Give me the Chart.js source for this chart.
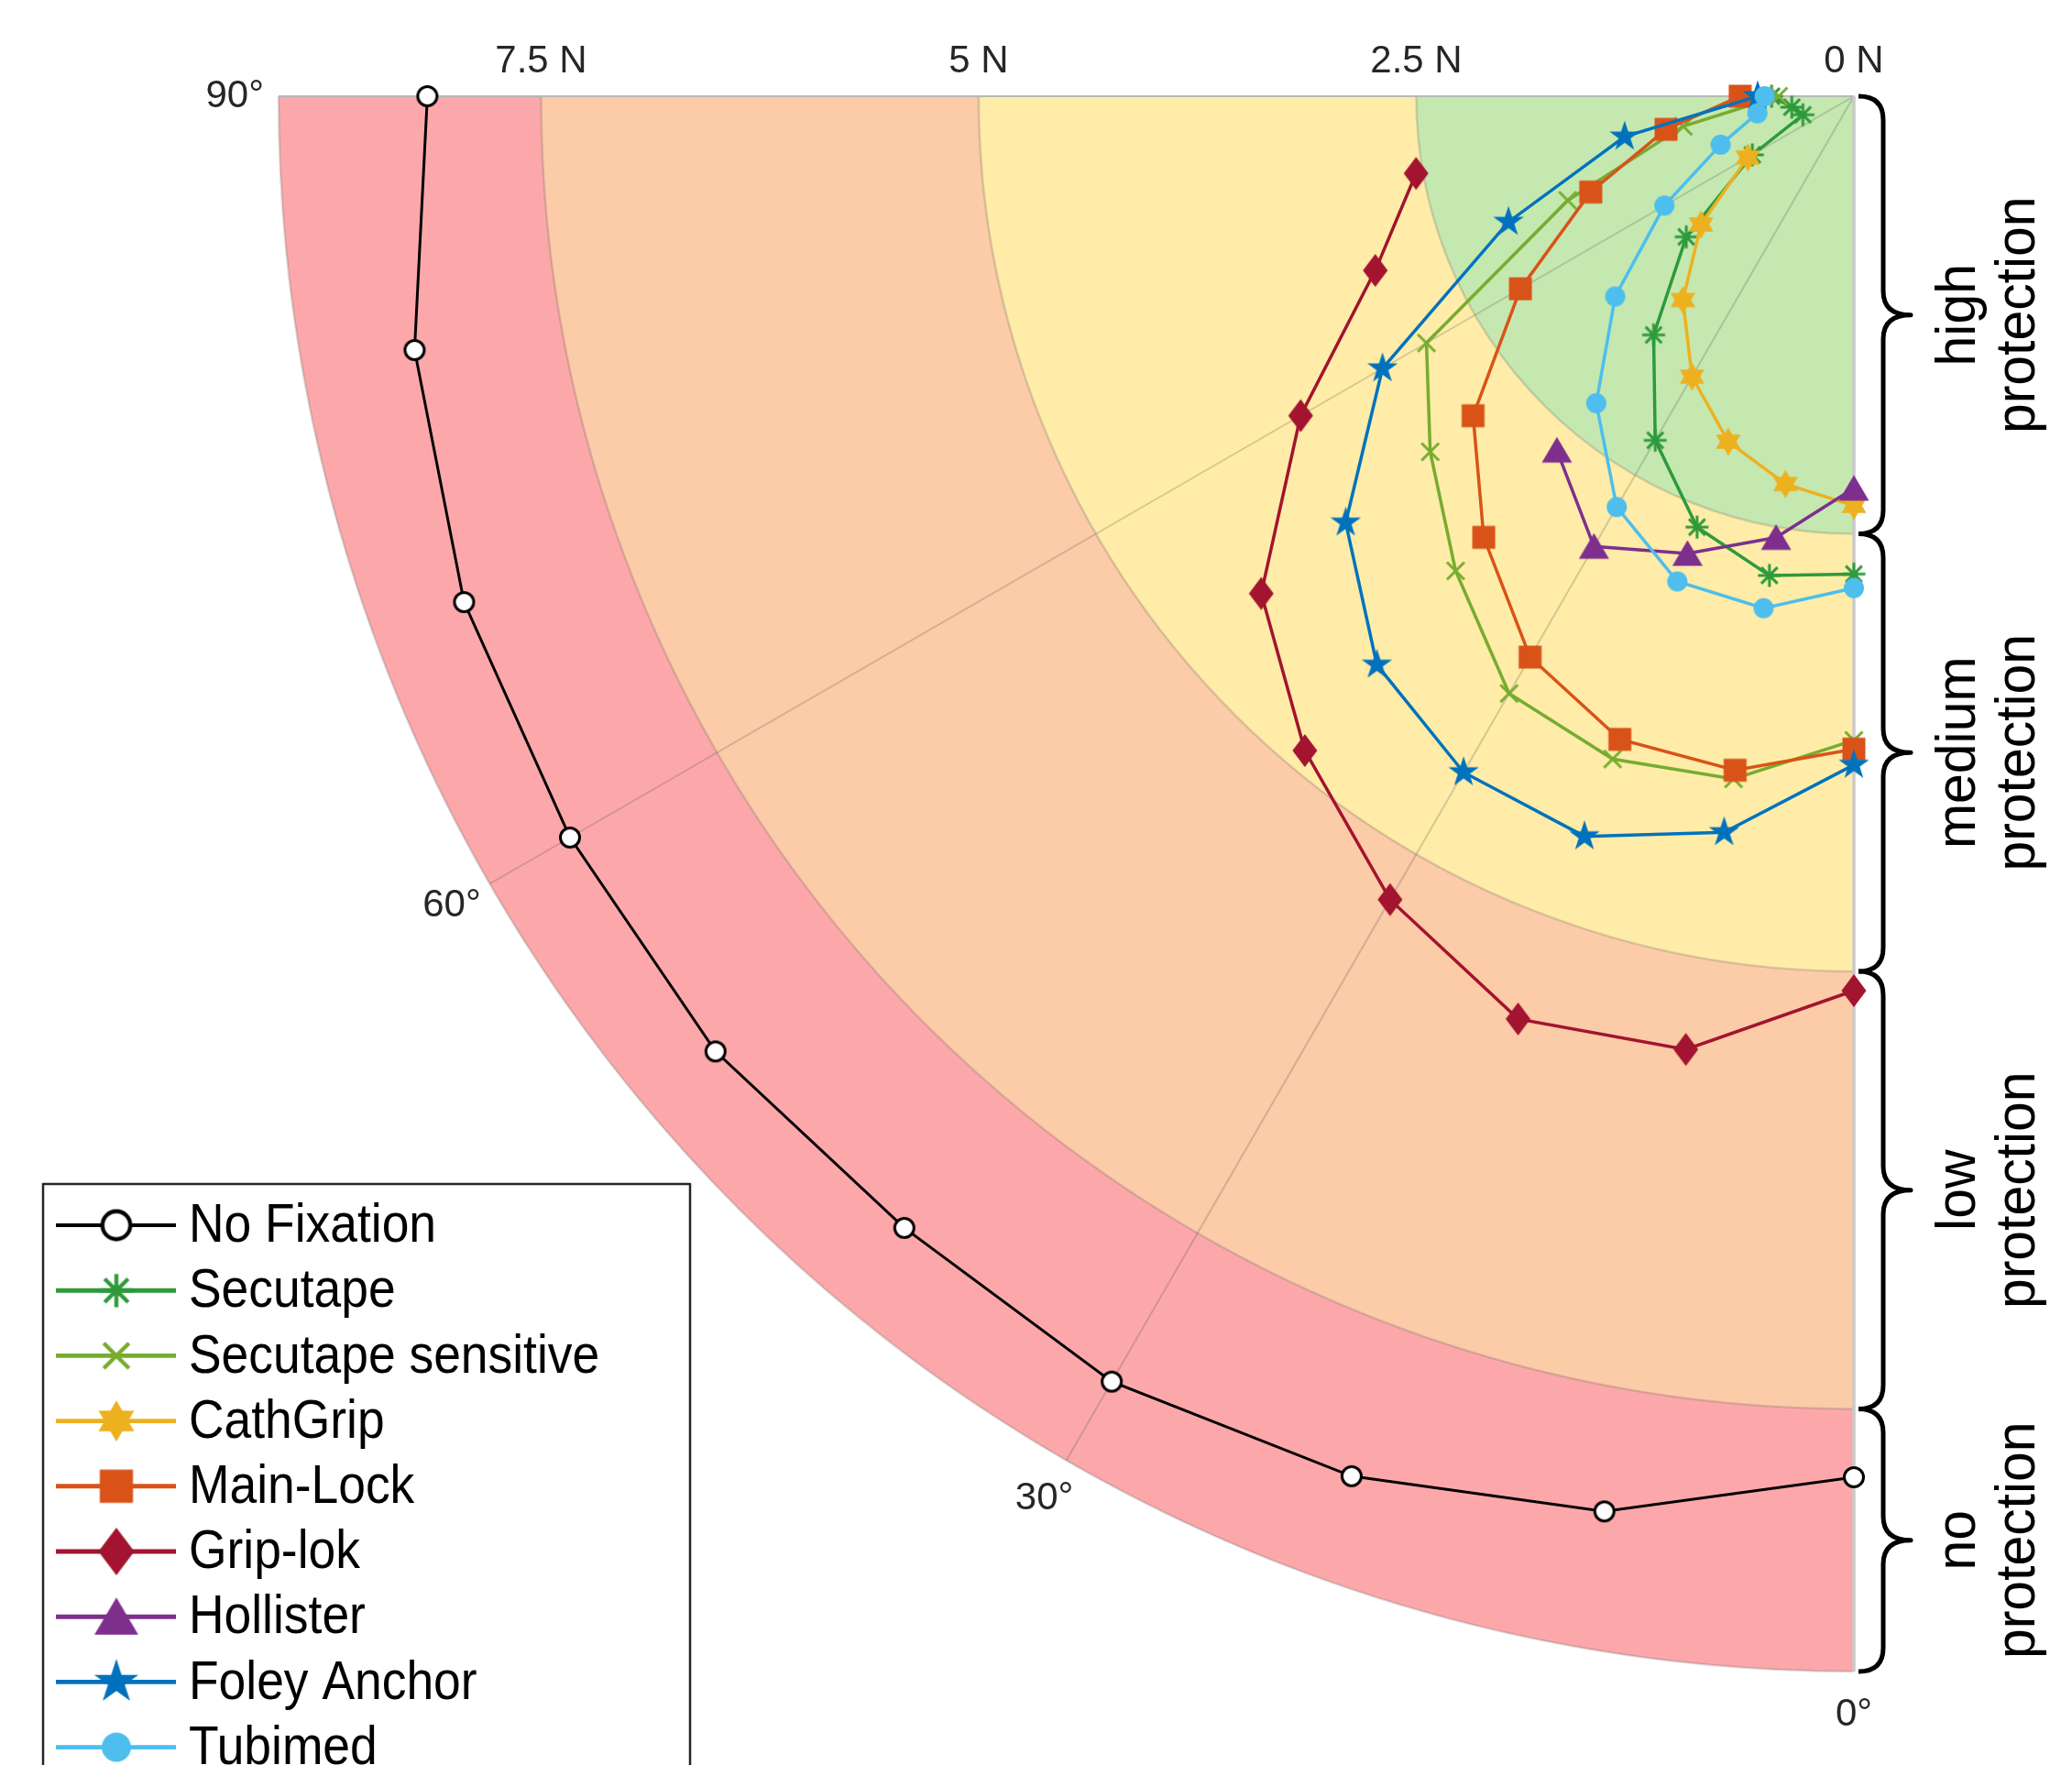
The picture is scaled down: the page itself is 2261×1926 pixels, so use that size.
<!DOCTYPE html>
<html>
<head>
<meta charset="utf-8">
<script src="https://cdn.jsdelivr.net/npm/chart.js@4.4.1/dist/chart.umd.min.js"></script>
<style>
html,body{margin:0;padding:0;background:#ffffff;}
#wrap{width:2261px;height:1926px;position:relative;overflow:hidden;}
canvas{display:block;}
</style>
</head>
<body>
<div id="wrap"><canvas id="c" width="2261" height="1926"></canvas></div>
<script>
// ---------- data (force in N, read at each pull angle) ----------
const angles = [0, 10, 20, 30, 40, 50, 60, 70, 80, 90];
const noFixation        = [7.89, 8.21, 8.39, 8.48, 8.44, 8.49, 8.47, 8.45, 8.35, 8.15];
const secutape          = [2.73, 2.78, 2.62, 2.27, 1.78, 1.25, 0.67, 0.31, 0.36, 0.47];
const secutapeSensitive = [3.68, 3.96, 4.03, 3.94, 3.54, 3.16, 2.82, 1.74, 0.99, 0.43];
const cathGrip          = [2.34, 2.25, 2.10, 1.85, 1.52, 1.14, 0.70];
const mainLock          = [3.73, 3.91, 3.91, 3.70, 3.29, 2.84, 2.20, 1.60, 1.09, 0.65];
const gripLok           = [5.11, 5.53, 5.61, 5.30, 4.88, 4.42, 3.65, 2.91, 2.54];
const hollister         = [2.24, 2.56, 2.78, 2.97, 2.64];
const foleyAnchor       = [3.82, 4.27, 4.50, 4.46, 4.24, 3.79, 3.11, 2.10, 1.33, 0.55];
const tubimed           = [2.81, 2.97, 2.95, 2.71, 2.29, 1.78, 1.25, 0.81, 0.56, 0.51];

const seriesNames = ['No Fixation', 'Secutape', 'Secutape sensitive', 'CathGrip', 'Main-Lock',
                     'Grip-lok', 'Hollister', 'Foley Anchor', 'Tubimed'];
const seriesValues = [noFixation, secutape, secutapeSensitive, cathGrip, mainLock,
                      gripLok, hollister, foleyAnchor, tubimed];

const radiusTicks = [0, 2.5, 5, 7.5];
const radiusTickLabels = ['0 N', '2.5 N', '5 N', '7.5 N'];
const angleTicks = [0, 30, 60, 90];
const angleTickLabels = ['0°', '30°', '60°', '90°'];
const zoneEdges = [0, 2.5, 5, 7.5, 9];
const zoneLabels = [['high', 'protection'], ['medium', 'protection'], ['low', 'protection'], ['no', 'protection']];
const rMax = 9;

// ---------- styles ----------
const seriesStyles = [
  { color: '#000000', marker: 'o', width: 3 },
  { color: '#2E9A3B', marker: '*', width: 3.5 },
  { color: '#77AC30', marker: 'x', width: 3.5 },
  { color: '#EDB120', marker: 'h', width: 3.5 },
  { color: '#D95319', marker: 's', width: 3.5 },
  { color: '#A2142F', marker: 'd', width: 3.5 },
  { color: '#7E2F8E', marker: '^', width: 3.5 },
  { color: '#0072BD', marker: 'p', width: 3.5 },
  { color: '#4DBEEE', marker: 'c', width: 3.5 }
];
const zoneColors = ['#C5E8B0', '#FEECA8', '#FCCBA7', '#FCA8AA'];
const FONT = "'Liberation Sans', Arial, Helvetica, sans-serif";

function makeMarker(type, color, s) {
  const size = Math.ceil(46 * s) + 4;
  const c = document.createElement('canvas');
  c.width = c.height = size;
  const g = c.getContext('2d');
  g.translate(size / 2, size / 2);
  g.fillStyle = color; g.strokeStyle = color; g.lineWidth = 3 * s;
  switch (type) {
    case 'o':
      g.beginPath(); g.arc(0, 0, 10.5 * s, 0, Math.PI * 2);
      g.fillStyle = '#ffffff'; g.fill(); g.strokeStyle = '#000000'; g.stroke(); break;
    case '*':
      g.beginPath();
      for (let k = 0; k < 4; k++) {
        const a = k * Math.PI / 4, L = 12.5 * s;
        g.moveTo(-Math.cos(a) * L, -Math.sin(a) * L); g.lineTo(Math.cos(a) * L, Math.sin(a) * L);
      }
      g.stroke(); break;
    case 'x': {
      const d = 9.5 * s;
      g.beginPath(); g.moveTo(-d, -d); g.lineTo(d, d); g.moveTo(d, -d); g.lineTo(-d, d); g.stroke(); break;
    }
    case 'h': {
      const R = 15.5 * s;
      for (const off of [-90, 90]) {
        g.beginPath();
        for (let k = 0; k < 3; k++) {
          const a = (off + k * 120) * Math.PI / 180;
          const px = Math.cos(a) * R, py = Math.sin(a) * R;
          if (k) g.lineTo(px, py); else g.moveTo(px, py);
        }
        g.closePath(); g.fill();
      }
      break;
    }
    case 's': g.fillRect(-12.5 * s, -12.5 * s, 25 * s, 25 * s); break;
    case 'd':
      g.beginPath(); g.moveTo(0, -18 * s); g.lineTo(13.5 * s, 0); g.lineTo(0, 18 * s); g.lineTo(-13.5 * s, 0);
      g.closePath(); g.fill(); break;
    case '^':
      g.beginPath(); g.moveTo(0, -14.5 * s); g.lineTo(16.5 * s, 13.5 * s); g.lineTo(-16.5 * s, 13.5 * s);
      g.closePath(); g.fill(); break;
    case 'p': {
      const R = 17.5 * s, r = R * 0.382;
      g.beginPath();
      for (let k = 0; k < 10; k++) {
        const a = (-90 + k * 36) * Math.PI / 180, rr = (k % 2) ? r : R;
        const px = Math.cos(a) * rr, py = Math.sin(a) * rr;
        if (k) g.lineTo(px, py); else g.moveTo(px, py);
      }
      g.closePath(); g.fill(); break;
    }
    case 'c': g.beginPath(); g.arc(0, 0, 11 * s, 0, Math.PI * 2); g.fill(); break;
  }
  return c;
}

function polarPoints(values) {
  return values.map((r, i) => {
    const t = angles[i] * Math.PI / 180;
    return { x: -r * Math.sin(t), y: -r * Math.cos(t) };
  });
}

// ---------- background: protection zones, spokes ----------
const polarBackground = {
  id: 'polarBackground',
  beforeDatasetsDraw(chart) {
    const ctx = chart.ctx, xs = chart.scales.x, ys = chart.scales.y;
    const cx = xs.getPixelForValue(0), cy = ys.getPixelForValue(0);
    const pr = v => cx - xs.getPixelForValue(-v);
    ctx.save();
    for (let z = zoneEdges.length - 1; z >= 1; z--) {
      const R = pr(zoneEdges[z]);
      ctx.beginPath(); ctx.moveTo(cx, cy); ctx.arc(cx, cy, R, Math.PI / 2, Math.PI); ctx.closePath();
      ctx.fillStyle = zoneColors[z - 1]; ctx.fill();
    }
    for (let z = 1; z < zoneEdges.length; z++) {
      const R = pr(zoneEdges[z]);
      ctx.beginPath(); ctx.arc(cx, cy, R, Math.PI / 2, Math.PI);
      ctx.strokeStyle = 'rgba(90,90,90,0.22)'; ctx.lineWidth = 2.5; ctx.stroke();
    }
    // spokes
    ctx.strokeStyle = 'rgba(80,80,80,0.24)'; ctx.lineWidth = 2;
    for (const a of angleTicks) {
      if (a === 0 || a === 90) continue;
      const t = a * Math.PI / 180;
      ctx.beginPath(); ctx.moveTo(cx, cy);
      ctx.lineTo(xs.getPixelForValue(-rMax * Math.sin(t)), ys.getPixelForValue(-rMax * Math.cos(t)));
      ctx.stroke();
    }
    // axis edges
    ctx.strokeStyle = '#b8b8b8'; ctx.lineWidth = 2;
    ctx.beginPath(); ctx.moveTo(xs.getPixelForValue(-rMax), cy); ctx.lineTo(cx, cy); ctx.stroke();
    ctx.strokeStyle = '#c9c9c9'; ctx.lineWidth = 3.5;
    ctx.beginPath(); ctx.moveTo(cx, cy); ctx.lineTo(cx, ys.getPixelForValue(-rMax)); ctx.stroke();
    ctx.restore();
  },
  afterDraw(chart) {
    const ctx = chart.ctx, xs = chart.scales.x, ys = chart.scales.y;
    const cx = xs.getPixelForValue(0), cy = ys.getPixelForValue(0);
    const pr = v => cx - xs.getPixelForValue(-v);
    ctx.save();
    // radius tick labels
    ctx.fillStyle = '#262626'; ctx.font = '42px ' + FONT;
    ctx.textAlign = 'center'; ctx.textBaseline = 'middle';
    radiusTicks.forEach((r, i) => {
      ctx.fillText(radiusTickLabels[i], xs.getPixelForValue(-r), cy - 38);
    });
    // angle tick labels
    ctx.font = '42px ' + FONT;
    angleTicks.forEach((a, i) => {
      const t = a * Math.PI / 180, rl = rMax + 0.25;
      ctx.fillText(angleTickLabels[i], xs.getPixelForValue(-rl * Math.sin(t)), ys.getPixelForValue(-rl * Math.cos(t)));
    });
    // braces and zone labels
    const xe = cx + 5, xsT = cx + 32, xt = cx + 62, q = 26;
    ctx.strokeStyle = '#000000'; ctx.lineWidth = 5; ctx.lineJoin = 'round';
    for (let z = 0; z < zoneLabels.length; z++) {
      const y0 = cy + pr(zoneEdges[z]), y1 = cy + pr(zoneEdges[z + 1]), ym = (y0 + y1) / 2;
      ctx.beginPath();
      ctx.moveTo(xe, y0);
      ctx.quadraticCurveTo(xsT, y0, xsT, y0 + q);
      ctx.lineTo(xsT, ym - q);
      ctx.quadraticCurveTo(xsT, ym, xt, ym);
      ctx.quadraticCurveTo(xsT, ym, xsT, ym + q);
      ctx.lineTo(xsT, y1 - q);
      ctx.quadraticCurveTo(xsT, y1, xe, y1);
      ctx.stroke();
      ctx.fillStyle = '#000000'; ctx.font = '62px ' + FONT;
      ctx.textAlign = 'center'; ctx.textBaseline = 'middle';
      zoneLabels[z].forEach((txt, li) => {
        ctx.save();
        ctx.translate(cx + 115 + li * 65, ym);
        ctx.rotate(-Math.PI / 2);
        ctx.scale(0.95, 1);
        ctx.fillText(txt, 0, 0);
        ctx.restore();
      });
    }
    // legend
    const lx = 47, ly = 1292, lw = 706;
    ctx.fillStyle = '#ffffff'; ctx.fillRect(lx, ly, lw, 760);
    ctx.strokeStyle = '#262626'; ctx.lineWidth = 2.5; ctx.strokeRect(lx, ly, lw, 760);
    seriesNames.forEach((name, i) => {
      const y = 1337 + i * 71.2, st = seriesStyles[i];
      ctx.strokeStyle = st.color; ctx.lineWidth = st.width * 1.4;
      ctx.beginPath(); ctx.moveTo(61, y); ctx.lineTo(192, y); ctx.stroke();
      const mk = legendMarkers[i];
      ctx.drawImage(mk, 127 - mk.width / 2, y - mk.height / 2);
      ctx.save();
      ctx.fillStyle = '#000000'; ctx.font = '59px ' + FONT;
      ctx.textAlign = 'left'; ctx.textBaseline = 'middle';
      ctx.translate(206, y + 2); ctx.scale(0.905, 1);
      ctx.fillText(name, 0, 0);
      ctx.restore();
    });
    ctx.restore();
  }
};

const legendMarkers = seriesStyles.map(s => makeMarker(s.marker, s.color, 1.45));

const datasets = seriesValues.map((vals, i) => {
  const st = seriesStyles[i];
  const mk = makeMarker(st.marker, st.color, 1);
  return {
    label: seriesNames[i],
    data: polarPoints(vals),
    showLine: true,
    borderColor: st.color,
    backgroundColor: st.color,
    borderWidth: st.width,
    pointStyle: mk,
    pointRadius: 12,
    pointHoverRadius: 12,
    pointBorderWidth: 0,
    tension: 0,
    fill: false,
    clip: false,
    order: seriesValues.length - i
  };
});

new Chart(document.getElementById('c'), {
  type: 'scatter',
  data: { datasets },
  options: {
    responsive: false,
    devicePixelRatio: 1,
    animation: false,
    events: [],
    layout: { padding: { left: 304, right: 238, top: 105, bottom: 102 } },
    scales: {
      x: { type: 'linear', min: -rMax, max: 0, display: false },
      y: { type: 'linear', min: -rMax, max: 0, display: false }
    },
    plugins: { legend: { display: false }, tooltip: { enabled: false } }
  },
  plugins: [polarBackground]
});
</script>
</body>
</html>
